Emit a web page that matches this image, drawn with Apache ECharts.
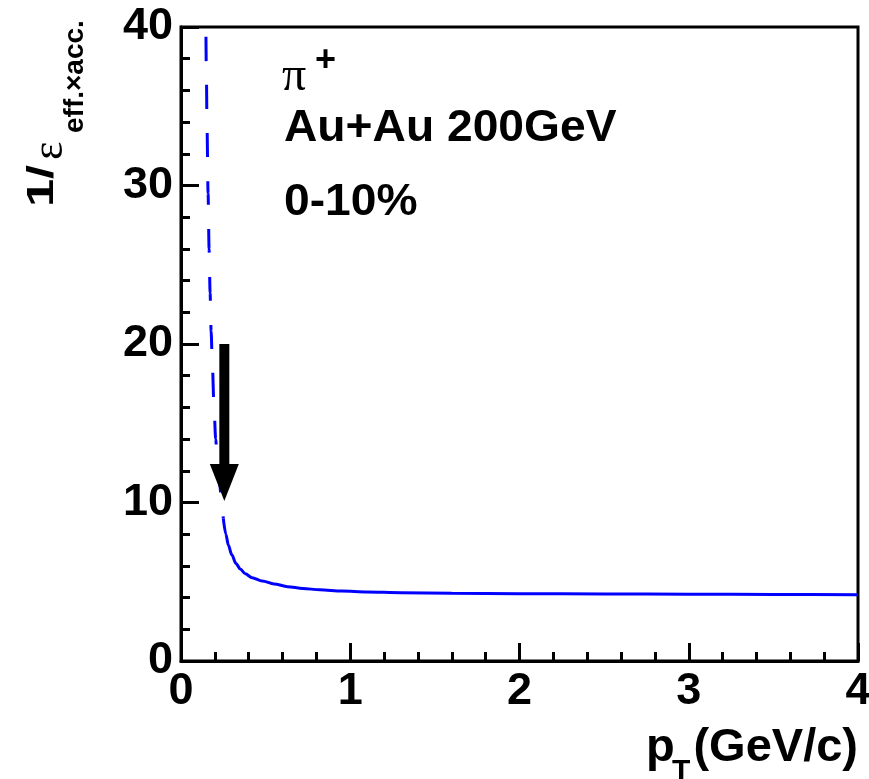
<!DOCTYPE html>
<html><head><meta charset="utf-8">
<script src="https://cdn.jsdelivr.net/npm/echarts@6/dist/echarts.min.js"></script>
<style>html,body{margin:0;padding:0;background:#fff}#c{width:869px;height:779px}</style>
</head><body><div id="c"></div>
<script>
// ---- data ----
const xTickLabels = [0, 1, 2, 3, 4];
const yTickLabels = [0, 10, 20, 30, 40];
// dashed part (low pT, extrapolation)
const dashedPt  = [0.147, 0.150, 0.154, 0.160, 0.166, 0.172, 0.178, 0.185, 0.195, 0.205, 0.215, 0.228, 0.240, 0.250];
const dashedVal = [40.0, 37.0, 33.5, 29.5, 26.0, 23.2, 20.8, 18.8, 16.0, 14.0, 12.5, 11.2, 10.0, 9.0];
// solid part
const solidPt  = [0.250, 0.265, 0.280, 0.300, 0.325, 0.350, 0.380, 0.420, 0.480, 0.550, 0.630, 0.720, 0.820, 0.950, 1.10, 1.30, 1.60, 2.00, 2.50, 3.00, 3.50, 4.00];
const solidVal = [9.0, 8.0, 7.3, 6.7, 6.15, 5.8, 5.5, 5.26, 5.05, 4.86, 4.69, 4.58, 4.49, 4.42, 4.36, 4.31, 4.28, 4.25, 4.23, 4.21, 4.20, 4.18];
// arrow: pT position, start value, end value
const arrowPt = [0.256];
const arrowFrom = [20.0];
const arrowTo = [10.1];
const annotation = ['π', '+', 'Au+Au 200GeV', '0-10%'];
const yTitle = ['1/', 'ε', 'eff.×acc.'];
const xTitle = ['p', 'T', '(GeV/c)'];

// ---- chart ----
const chart = echarts.init(document.getElementById('c'), null, {renderer: 'canvas'});
const SANS = '"Liberation Sans", Arial, Helvetica, sans-serif';
const SERIF = '"Liberation Serif", "Times New Roman", serif';

const axisCommon = {
  type: 'value',
  axisLine: {show: true, lineStyle: {color: '#000', width: 3}},
  axisTick: {show: true, inside: true, length: 18, lineStyle: {color: '#000', width: 3}},
  minorTick: {show: true, splitNumber: 5, length: 9, lineStyle: {color: '#000', width: 3}},
  splitLine: {show: false},
  minorSplitLine: {show: false},
  axisLabel: {color: '#000', fontFamily: SANS, fontWeight: 'bold', fontSize: 45, showMinLabel: true, showMaxLabel: true, hideOverlap: false}
};

const option = {
  animation: false,
  backgroundColor: '#fff',
  grid: {left: 181, right: 11, top: 27, bottom: 118, outerBoundsMode: 'none', containLabel: false,
         show: true, borderColor: '#000', borderWidth: 3, backgroundColor: 'transparent'},
  xAxis: Object.assign({}, axisCommon, {
    min: 0, max: 4, interval: 1,
    axisLabel: Object.assign({}, axisCommon.axisLabel, {margin: 8, formatter: v => xTickLabels.includes(v) ? String(v) : ''})
  }),
  yAxis: Object.assign({}, axisCommon, {
    min: 0, max: 40, interval: 10,
    axisLabel: Object.assign({}, axisCommon.axisLabel, {margin: 8, formatter: v => yTickLabels.includes(v) ? String(v) : ''})
  }),
  series: [
    {
      type: 'line', data: dashedPt.map((x, i) => [x, dashedVal[i]]),
      showSymbol: false, smooth: 0.3, smoothMonotone: 'x', clip: true,
      lineStyle: {color: '#0000ff', width: 3, type: [24, 24], dashOffset: 38}, z: 3
    },
    {
      type: 'line', data: solidPt.map((x, i) => [x, solidVal[i]]),
      showSymbol: false, smooth: 0.3, smoothMonotone: 'x', clip: true,
      lineStyle: {color: '#0000ff', width: 3, type: 'solid'}, z: 3
    },
    {
      type: 'custom', z: 5,
      data: arrowPt.map((x, i) => [x, arrowFrom[i], arrowTo[i]]),
      encode: {x: 0, y: [1, 2]},
      renderItem: function (params, api) {
        const top = api.coord([api.value(0), api.value(1)]);
        const tip = api.coord([api.value(0), api.value(2)]);
        const headLen = 37, headW = 29, shaftW = 10;
        return {type: 'group', children: [
          {type: 'rect', shape: {x: top[0] - shaftW / 2, y: top[1], width: shaftW, height: tip[1] - headLen - top[1] + 1}, style: {fill: '#000'}},
          {type: 'polygon', shape: {points: [[tip[0] - headW / 2, tip[1] - headLen], [tip[0] + headW / 2, tip[1] - headLen], [tip[0], tip[1]]]}, style: {fill: '#000'}}
        ]};
      }
    }
  ],
  graphic: [
    // annotation block
    {type: 'text', x: 282, y: 101, style: {text: annotation[0], fontFamily: SERIF, fontSize: 48, fill: '#000', textAlign: 'left', textVerticalAlign: 'bottom'}},
    {type: 'text', x: 315, y: 61, style: {text: annotation[1], fontFamily: SANS, fontWeight: 'bold', fontSize: 36, fill: '#000', textAlign: 'left', textVerticalAlign: 'middle'}},
    {type: 'text', x: 284, y: 129, scaleX: 1.05, style: {text: annotation[2], fontFamily: SANS, fontWeight: 'bold', fontSize: 44, fill: '#000', textAlign: 'left', textVerticalAlign: 'middle'}},
    {type: 'text', x: 284, y: 203, scaleX: 1.05, style: {text: annotation[3], fontFamily: SANS, fontWeight: 'bold', fontSize: 44, fill: '#000', textAlign: 'left', textVerticalAlign: 'middle'}},
    // y title (rotated)
    {type: 'text', x: 43, y: 207, rotation: Math.PI / 2, scaleX: 1.4, style: {text: yTitle[0], fontFamily: SANS, fontWeight: 'bold', fontSize: 36, fill: '#000', textAlign: 'left', textVerticalAlign: 'middle'}},
    {type: 'text', x: 50, y: 160, rotation: Math.PI / 2, style: {text: yTitle[1], fontFamily: SERIF, fontSize: 44, fill: '#000', textAlign: 'left', textVerticalAlign: 'middle'}},
    {type: 'text', x: 75, y: 133, rotation: Math.PI / 2, style: {text: yTitle[2], fontFamily: SANS, fontWeight: 'bold', fontSize: 28, fill: '#000', textAlign: 'left', textVerticalAlign: 'middle'}},
    // x title
    {type: 'text', x: 646, y: 748, style: {text: xTitle[0], fontFamily: SANS, fontWeight: 'bold', fontSize: 47, fill: '#000', textAlign: 'left', textVerticalAlign: 'middle'}},
    {type: 'text', x: 672, y: 772, style: {text: xTitle[1], fontFamily: SANS, fontWeight: 'bold', fontSize: 30, fill: '#000', textAlign: 'left', textVerticalAlign: 'middle'}},
    {type: 'text', x: 858, y: 748, style: {text: xTitle[2], fontFamily: SANS, fontWeight: 'bold', fontSize: 47, fill: '#000', textAlign: 'right', textVerticalAlign: 'middle'}}
  ]
};
chart.setOption(option);
</script>
</body></html>
